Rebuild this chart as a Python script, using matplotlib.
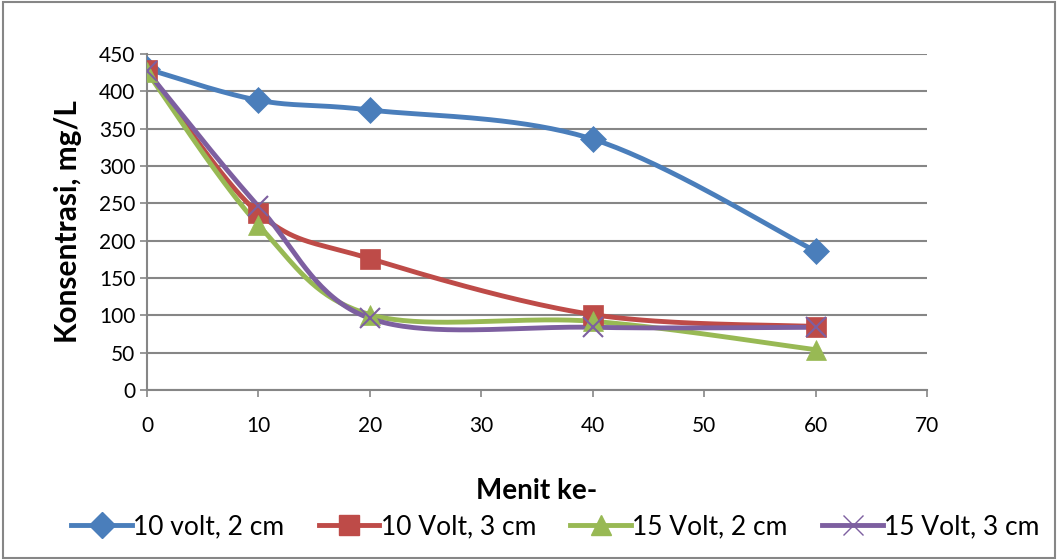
import numpy as np
import matplotlib.pyplot as plt
from matplotlib.patches import Rectangle

plt.rcParams['font.family'] = ['Lato', 'DejaVu Sans']

# data
menit = [0, 10, 20, 40, 60]
v10_2cm = [430, 388, 375, 336, 186]
v10_3cm = [428, 237, 176, 101, 85]
v15_2cm = [426, 221, 101, 92, 54]
v15_3cm = [427, 246, 96, 84, 84]

labels = ["10 volt, 2 cm", "10 Volt, 3 cm", "15 Volt, 2 cm", "15 Volt, 3 cm"]
colors = ["#4a7ebb", "#be4b48", "#98b954", "#7d5fa0"]
markers = ["D", "s", "^", "x"]


def smooth(x, y, n=40):
    # excel-like bezier smoothing through the points
    x = np.asarray(x, float)
    y = np.asarray(y, float)
    px, py = [], []
    for i in range(len(x) - 1):
        x0, y0 = (x[i - 1], y[i - 1]) if i > 0 else (x[i], y[i])
        x3, y3 = (x[i + 2], y[i + 2]) if i + 2 < len(x) else (x[i + 1], y[i + 1])
        c1x = x[i] + (x[i + 1] - x0) / 6
        c1y = y[i] + (y[i + 1] - y0) / 6
        c2x = x[i + 1] - (x3 - x[i]) / 6
        c2y = y[i + 1] - (y3 - y[i]) / 6
        t = np.linspace(0, 1, n)
        bx = (1-t)**3*x[i] + 3*(1-t)**2*t*c1x + 3*(1-t)*t**2*c2x + t**3*x[i+1]
        by = (1-t)**3*y[i] + 3*(1-t)**2*t*c1y + 3*(1-t)*t**2*c2y + t**3*y[i+1]
        px.extend(bx)
        py.extend(by)
    return px, py


fig = plt.figure(figsize=(10.58, 5.6), dpi=100)
ax = fig.add_axes([147/1058, 1 - 390/560, 780/1058, 336/560])

series = [v10_2cm, v10_3cm, v15_2cm, v15_3cm]
sizes = [13, 14, 14, 14]
for vals, lab, c, m, ms in zip(series, labels, colors, markers, sizes):
    sx, sy = smooth(menit, vals)
    ax.plot(sx, sy, color=c, lw=3.5, zorder=3)
    ax.plot(menit, vals, ls='none', marker=m, color=c, ms=ms,
            mew=1.5 if m == "x" else 0.5, zorder=4)
    ax.plot([], [], color=c, lw=3.5, marker=m, ms=ms, label=lab)

ax.set_xlim(0, 70)
ax.set_ylim(0, 450)
ax.set_xticks(range(0, 71, 10))
ax.set_yticks(range(0, 451, 50))
ax.grid(axis='y', color='#868686', lw=1.5)
ax.set_axisbelow(True)
for s in ['top', 'right']:
    ax.spines[s].set_visible(False)
for s in ['left', 'bottom']:
    ax.spines[s].set_color('#868686')
    ax.spines[s].set_linewidth(1.5)
ax.tick_params(colors='#868686', labelcolor='black', labelsize=15, length=5, width=1.2)
ax.tick_params(axis='x', pad=14)

ax.set_xlabel("Menit ke-", fontsize=20, fontweight='bold', labelpad=30)
ax.set_ylabel("Konsentrasi, mg/L", fontsize=21.5, fontweight='bold', labelpad=12)

fig.legend(loc='center', bbox_to_anchor=(0.525, 1 - 527/560), ncol=4, frameon=False,
           fontsize=19, handlelength=2.3, handletextpad=0.05, columnspacing=1.3,
           borderaxespad=0)

fig.patches.append(Rectangle((0.003, 0.003), 0.994, 0.994, transform=fig.transFigure,
                             fill=False, edgecolor='#868686', lw=1.5))

fig.savefig("out.png", dpi=100)
